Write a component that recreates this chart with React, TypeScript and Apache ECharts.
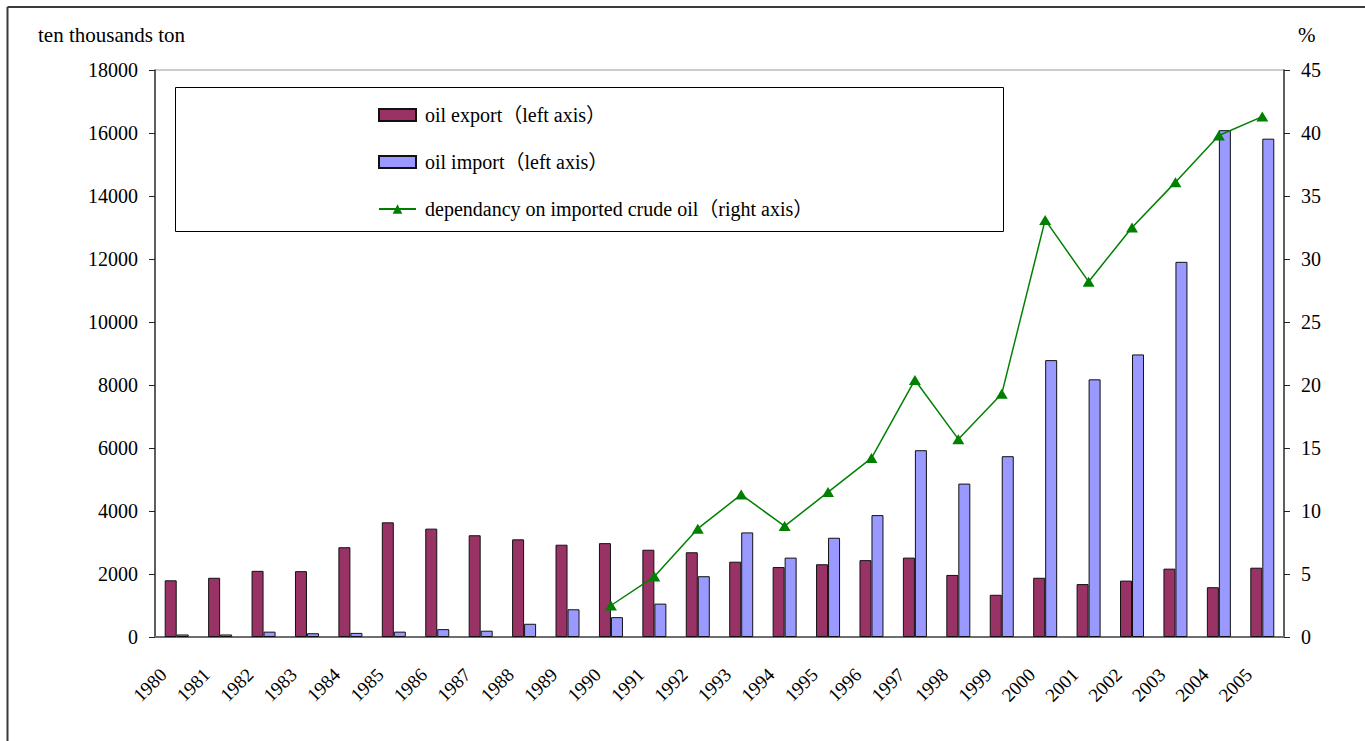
import React, { useEffect, useRef } from "react";
import * as echarts from "echarts";

const years = [
  "1980", "1981", "1982", "1983", "1984", "1985", "1986", "1987", "1988", "1989",
  "1990", "1991", "1992", "1993", "1994", "1995", "1996", "1997", "1998", "1999",
  "2000", "2001", "2002", "2003", "2004", "2005",
];

// ten thousand tons
const oilExport = [
  1800, 1880, 2100, 2090, 2850, 3640, 3440, 3230, 3100, 2930,
  2980, 2770, 2690, 2390, 2220, 2310, 2440, 2520, 1970, 1340,
  1880, 1680, 1790, 2170, 1580, 2200,
];

const oilImport = [
  80, 80, 170, 120, 130, 170, 250, 200, 420, 880,
  630, 1060, 1930, 3320, 2520, 3150, 3870, 5930, 4870, 5740,
  8790, 8180, 8970, 11910, 16090, 15820,
];

// percent
const dependency: (number | null)[] = [
  null, null, null, null, null, null, null, null, null, null,
  2.5, 4.8, 8.6, 11.3, 8.8, 11.5, 14.2, 20.4, 15.7, 19.3,
  33.1, 28.2, 32.5, 36.1, 39.8, 41.3,
];

const leftTicks = { min: 0, max: 18000, interval: 2000 };
const rightTicks = { min: 0, max: 45, interval: 5 };

const seriesNames = [
  "oil export（left axis）",
  "oil import（left axis）",
  "dependancy on imported crude oil（right axis）",
];

const FONT = "'Liberation Serif', 'Times New Roman', 'Noto Sans CJK SC', serif";

export default function App() {
  const ref = useRef<HTMLDivElement>(null);

  useEffect(() => {
    if (!ref.current) return;
    const chart = echarts.init(ref.current, null, { renderer: "svg" });

    chart.setOption({
      animation: false,
      backgroundColor: "#ffffff",
      textStyle: { fontFamily: FONT, color: "#000" },
      grid: {
        left: 155,
        right: 81,
        top: 70,
        bottom: 104,
        show: true,
        borderColor: "#9a9a9a",
        borderWidth: 1,
        backgroundColor: "transparent",
      },
      legend: {
        orient: "vertical",
        left: 378,
        top: 105,
        padding: 0,
        itemWidth: 37,
        itemHeight: 12,
        itemGap: 27,
        selectedMode: false,
        textStyle: {
          fontFamily: FONT,
          fontSize: 20,
          color: "#000",
          padding: [0, 0, 0, 4],
        },
        data: [
          { name: seriesNames[0], icon: "rect" },
          { name: seriesNames[1], icon: "rect" },
          { name: seriesNames[2] },
        ],
      },
      graphic: [
        // outer chart frame (top and left edges)
        {
          type: "line",
          shape: { x1: 7.5, y1: 7, x2: 1365, y2: 7 },
          style: { stroke: "#3a3a3a", lineWidth: 2 },
        },
        {
          type: "line",
          shape: { x1: 7.5, y1: 7, x2: 7.5, y2: 741 },
          style: { stroke: "#3a3a3a", lineWidth: 2 },
        },
        // legend frame
        {
          type: "rect",
          shape: { x: 175.5, y: 87.5, width: 828, height: 144 },
          style: { fill: "none", stroke: "#000", lineWidth: 1 },
        },
        // axis titles
        {
          type: "text",
          x: 38,
          y: 35,
          style: {
            text: "ten thousands ton",
            font: `21px ${FONT}`,
            fill: "#000",
            verticalAlign: "middle",
          },
        },
        {
          type: "text",
          x: 1298,
          y: 35,
          style: {
            text: "%",
            font: `21px ${FONT}`,
            fill: "#000",
            verticalAlign: "middle",
          },
        },
      ],
      xAxis: {
        type: "category",
        data: years,
        boundaryGap: true,
        axisLine: { lineStyle: { color: "#6e6e6e", width: 2 } },
        axisTick: {
          inside: true,
          length: 6,
          alignWithLabel: false,
          lineStyle: { color: "#222", width: 1 },
        },
        axisLabel: {
          interval: 0,
          rotate: 45,
          margin: 21,
          padding: [0, 19, 0, 0],
          fontFamily: FONT,
          fontSize: 19,
          color: "#000",
        },
        splitLine: { show: false },
      },
      yAxis: [
        {
          type: "value",
          min: leftTicks.min,
          max: leftTicks.max,
          interval: leftTicks.interval,
          axisLine: { show: true, lineStyle: { color: "#3a3a3a", width: 1.5 } },
          axisTick: { show: true, length: 6, lineStyle: { color: "#222" } },
          axisLabel: {
            margin: 17,
            fontFamily: FONT,
            fontSize: 20,
            color: "#000",
            formatter: (v: number) => String(v),
          },
          splitLine: { show: false },
        },
        {
          type: "value",
          position: "right",
          min: rightTicks.min,
          max: rightTicks.max,
          interval: rightTicks.interval,
          axisLine: { show: true, lineStyle: { color: "#3a3a3a", width: 1.5 } },
          axisTick: { show: true, length: 6, lineStyle: { color: "#222" } },
          axisLabel: {
            margin: 17,
            fontFamily: FONT,
            fontSize: 20,
            color: "#000",
            formatter: (v: number) => String(v),
          },
          splitLine: { show: false },
        },
      ],
      series: [
        {
          name: seriesNames[0],
          type: "bar",
          yAxisIndex: 0,
          data: oilExport,
          barWidth: 12,
          barGap: "0%",
          itemStyle: { color: "#993366", borderColor: "#111", borderWidth: 1 },
        },
        {
          name: seriesNames[1],
          type: "bar",
          yAxisIndex: 0,
          data: oilImport,
          barWidth: 12,
          barGap: "0%",
          itemStyle: { color: "#9999ff", borderColor: "#111", borderWidth: 1 },
        },
        {
          name: seriesNames[2],
          type: "line",
          yAxisIndex: 1,
          data: dependency,
          connectNulls: false,
          symbol: "triangle",
          symbolSize: [12, 10],
          lineStyle: { color: "#008000", width: 1.5 },
          itemStyle: { color: "#008000" },
          z: 5,
        },
      ],
    });

    return () => chart.dispose();
  }, []);

  return (
    <div
      ref={ref}
      style={{ position: "absolute", left: 0, top: 0, width: 1365, height: 741 }}
    />
  );
}
